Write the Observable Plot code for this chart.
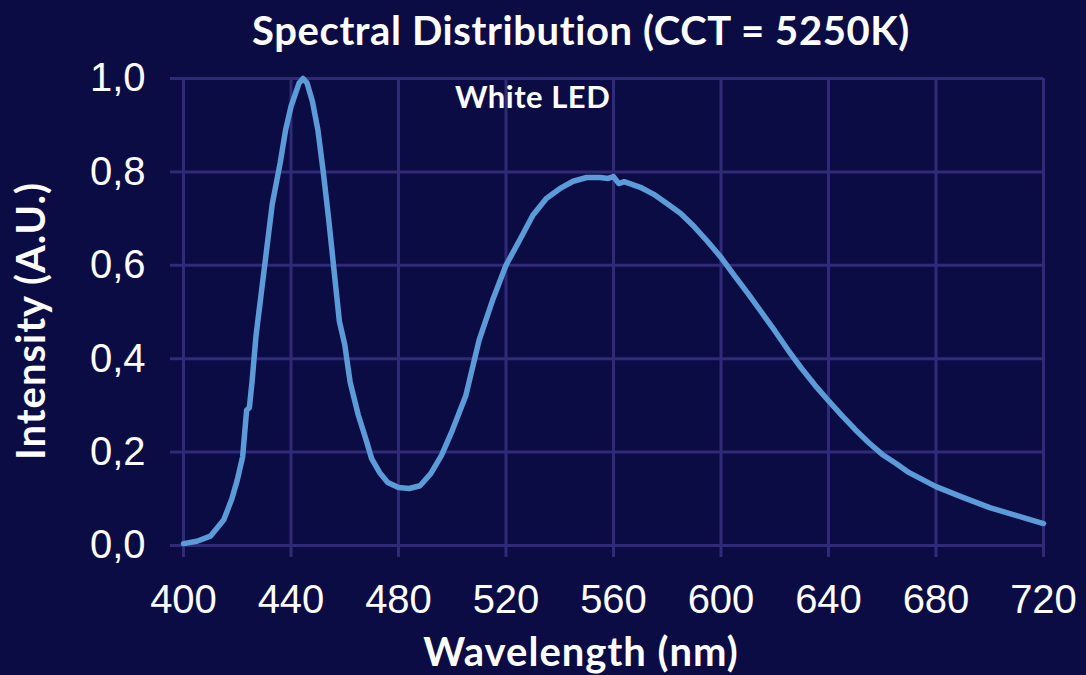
<!DOCTYPE html>
<html><head><meta charset="utf-8">
<script src="https://cdn.jsdelivr.net/npm/d3@7"></script>
<script src="https://cdn.jsdelivr.net/npm/@observablehq/plot@0.6"></script>
<style>
html,body{margin:0;padding:0;background:#0c0c45;}
#wrap{position:relative;width:1086px;height:675px;overflow:hidden;background:#0c0c45;}
.t{position:absolute;color:#fff;font-family:Lato,"Open Sans",sans-serif;font-weight:700;white-space:nowrap;line-height:1;}
</style></head>
<body><div id="wrap">
<div id="chart" style="position:absolute;left:0;top:0"></div>
<div class="t" id="title" style="left:0;width:1162px;text-align:center;top:10px;font-size:40px;letter-spacing:0.6px">Spectral Distribution (CCT = 5250K)</div>
<div class="t" id="ann" style="left:455px;top:81px;font-size:31px;letter-spacing:0.5px">White LED</div>
<div class="t" id="xl" style="left:0;width:1162px;text-align:center;top:631px;font-size:40px;letter-spacing:1px">Wavelength (nm)</div>
<div class="t" id="yl" style="left:30px;top:321px;font-size:40px;transform:translate(-50%,-50%) rotate(-90deg);letter-spacing:1px">Intensity (A.U.)</div>
</div>
<script>
const wavelength = [400,405,410,415,418,420,422,423.5,424.5,425.5,427,430,433,436,438,440,443,444.5,446,448,450,452,454,456,458,460,462,465,468,470,473,476,480,484,488,492,496,500,505,510,515,520,525,530,535,540,545,550,555,558,560,562,564,565,570,575,580,585,590,595,600,605,610,615,620,625,630,635,640,645,650,655,660,665,670,675,680,690,700,710,720];
const intensity = [0.004,0.009,0.02,0.055,0.10,0.14,0.19,0.29,0.295,0.35,0.45,0.59,0.73,0.82,0.89,0.94,0.99,1.0,0.99,0.95,0.89,0.80,0.70,0.59,0.48,0.43,0.35,0.28,0.225,0.186,0.156,0.135,0.124,0.122,0.128,0.154,0.193,0.246,0.32,0.44,0.525,0.60,0.653,0.707,0.743,0.764,0.78,0.788,0.788,0.786,0.79,0.775,0.779,0.777,0.767,0.752,0.732,0.711,0.683,0.651,0.617,0.578,0.54,0.50,0.46,0.418,0.379,0.343,0.31,0.278,0.248,0.22,0.195,0.176,0.156,0.141,0.126,0.103,0.081,0.064,0.047];
const xTicks = [400,440,480,520,560,600,640,680,720];
const yTicks = [0,0.2,0.4,0.6,0.8,1.0];
const data = wavelength.map((w,i)=>({w, v:intensity[i]}));
const grid = "#2f2b78";
const chart = Plot.plot({
  width:1086, height:675,
  marginLeft:183, marginRight:43, marginTop:78, marginBottom:130,
  style:{background:"transparent", color:"#fff", fontFamily:"'Liberation Sans', Arial, sans-serif", fontSize:"40px"},
  x:{domain:[400,720], ticks:xTicks},
  y:{domain:[0,1], ticks:yTicks},
  marks:[
    Plot.gridX(xTicks,{stroke:grid, strokeOpacity:1, strokeWidth:3}),
    Plot.gridY(yTicks,{stroke:grid, strokeOpacity:1, strokeWidth:3}),
    Plot.axisX(xTicks,{label:null, tickSize:12, tickPadding:27, stroke:grid, strokeWidth:3, fill:"#fff", fontSize:40}),
    Plot.axisY(yTicks,{label:null, tickSize:13, tickPadding:25, stroke:grid, strokeWidth:3, fill:"#fff", fontSize:40, tickFormat:d=>d.toFixed(1).replace(".",",")}),
    Plot.line(data,{x:"w", y:"v", stroke:"#5b9bd8", strokeWidth:5.5, strokeLinejoin:"round"})
  ]
});
document.getElementById("chart").appendChild(chart);
</script>
</body></html>
